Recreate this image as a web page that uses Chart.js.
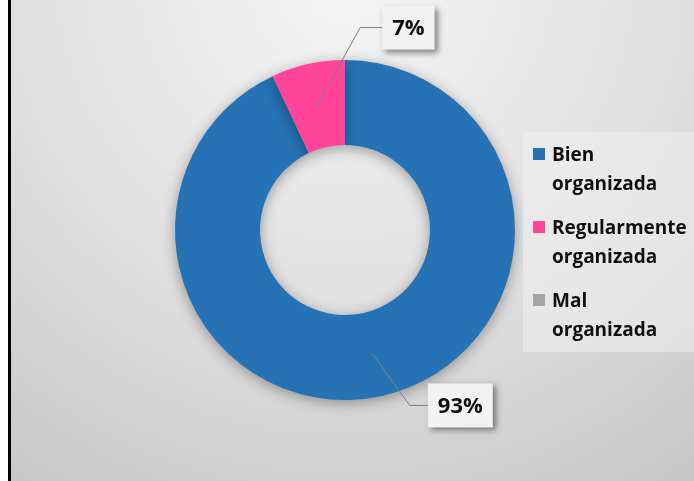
<!DOCTYPE html>
<html>
<head>
<meta charset="utf-8">
<script src="https://cdn.jsdelivr.net/npm/chart.js@4"></script>
<style>
  html, body { margin: 0; padding: 0; background: #fff; }
  #wrap { width: 694px; height: 481px; position: relative; }
</style>
</head>
<body>
<div id="wrap"><canvas id="myChart" width="694" height="481"></canvas></div>
<script>
// data
const labels = [
    ['Bien', 'organizada'],
    ['Regularmente', 'organizada'],
    ['Mal', 'organizada']
];
const values = [93, 7, 0];
const colors = ['#2573b4', '#ff4499', '#a6a6a6'];

// background + left rule
const bgPlugin = {
    id: 'bg',
    beforeDraw(chart) {
        const ctx = chart.ctx;
        ctx.save();
        let g = ctx.createRadialGradient(345, -20, 20, 345, -20, 640);
        g.addColorStop(0, '#f4f4f4');
        g.addColorStop(0.5, '#e0e0e0');
        g.addColorStop(1, '#c4c4c4');
        ctx.fillStyle = g;
        ctx.fillRect(10, 0, chart.width - 10, chart.height);
        ctx.fillStyle = '#000';
        ctx.fillRect(8, 0, 3, chart.height);
        ctx.restore();
    },
    beforeDatasetsDraw(chart) {
        chart.ctx.save();
        chart.ctx.shadowColor = 'rgba(0,0,0,0.35)';
        chart.ctx.shadowBlur = 14;
        chart.ctx.shadowOffsetY = 3;
    },
    afterDatasetsDraw(chart) {
        chart.ctx.restore();
    }
};

// leader-line labels, like the Excel data callouts
const calloutPlugin = {
    id: 'callouts',
    afterDraw(chart, args, opts) {
        const ctx = chart.ctx;
        const meta = chart.getDatasetMeta(0);
        const total = values.reduce((a, b) => a + b, 0);
        meta.data.forEach((arc, i) => {
            const o = opts.offsets[i];
            if (!o || values[i] === 0) return;
            const p = arc.getCenterPoint();
            const ex = p.x + o.elbow[0], ey = p.y + o.elbow[1];
            const tx = ex + o.tail;
            ctx.save();
            ctx.strokeStyle = '#7f7f7f';
            ctx.lineWidth = 1;
            ctx.beginPath();
            ctx.moveTo(p.x, p.y);
            ctx.lineTo(ex, ey);
            ctx.lineTo(tx, ey);
            ctx.stroke();

            const txt = Math.round(values[i] / total * 100) + '%';
            ctx.font = 'bold 22px "Open Sans"';
            const w = ctx.measureText(txt).width + 20;
            const h = 44;
            ctx.shadowColor = 'rgba(0,0,0,0.45)';
            ctx.shadowBlur = 6;
            ctx.shadowOffsetX = 3;
            ctx.shadowOffsetY = 3;
            ctx.fillStyle = '#f2f2f2';
            ctx.fillRect(tx, ey - h / 2, w, h);
            ctx.shadowColor = 'transparent';
            ctx.fillStyle = '#111';
            ctx.textAlign = 'center';
            ctx.textBaseline = 'middle';
            ctx.fillText(txt, tx + w / 2, ey + 1);
            ctx.restore();
        });
    }
};

// legend drawn by hand so the two-line labels wrap like the original
const legendPlugin = {
    id: 'sideLegend',
    afterDraw(chart) {
        const ctx = chart.ctx;
        ctx.save();
        ctx.fillStyle = 'rgba(240,240,240,0.55)';
        ctx.fillRect(523, 132, chart.width - 523, 220);
        ctx.font = 'bold 19px "Open Sans"';
        ctx.textBaseline = 'alphabetic';
        labels.forEach((lab, i) => {
            const y = 161 + i * 73;
            ctx.fillStyle = colors[i];
            ctx.fillRect(533, y - 13, 12, 12);
            ctx.fillStyle = '#111';
            lab.forEach((line, j) => ctx.fillText(line, 552, y + j * 28.5));
        });
        ctx.restore();
    }
};

new Chart(document.getElementById('myChart'), {
    type: 'doughnut',
    data: {
        labels: labels,
        datasets: [{
            data: values,
            backgroundColor: colors,
            borderWidth: 0
        }]
    },
    options: {
        responsive: false,
        animation: false,
        cutout: '50%',
        layout: { padding: { left: 175, right: 179, top: 60, bottom: 81 } },
        plugins: {
            legend: { display: false },
            tooltip: { enabled: false },
            callouts: {
                offsets: [
                    { elbow: [37, 51], tail: 18 },
                    { elbow: [43, -78], tail: 22 },
                    null
                ]
            }
        }
    },
    plugins: [bgPlugin, calloutPlugin, legendPlugin]
});
</script>
</body>
</html>
